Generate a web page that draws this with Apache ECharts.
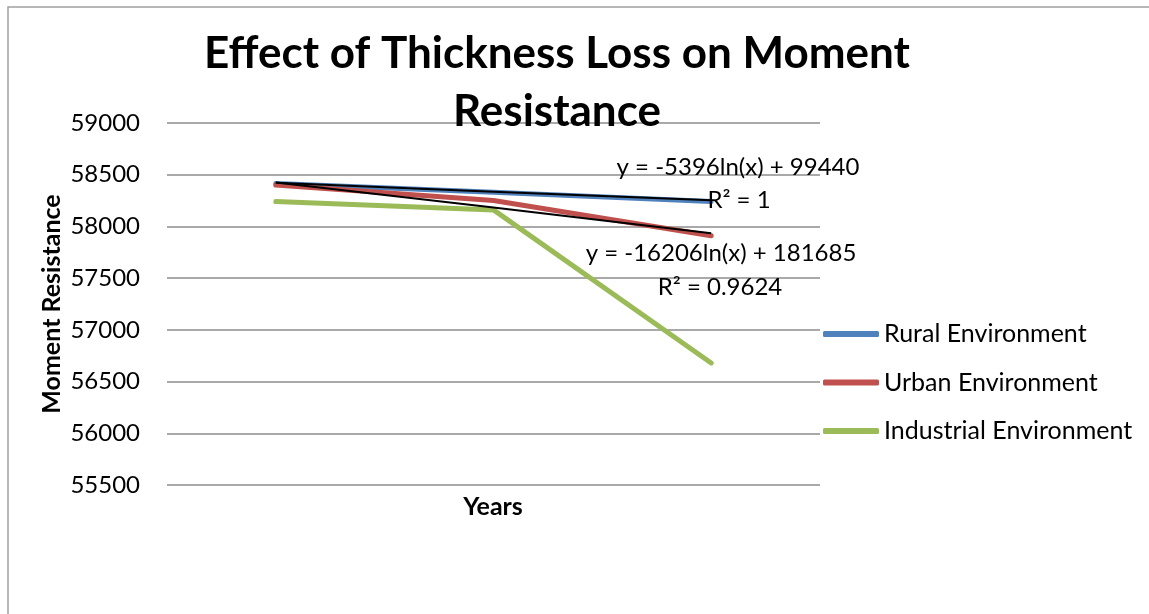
<!DOCTYPE html>
<html>
<head>
<meta charset="utf-8">
<script src="https://cdn.jsdelivr.net/npm/echarts@6/dist/echarts.min.js"></script>
<style>
  html, body { margin: 0; padding: 0; background: #fff; }
  #chart { width: 1149px; height: 614px; }
</style>
</head>
<body>
<div id="chart"></div>
<script>
// 数据
var categories = ['1', '2', '3'];
var seriesNames = ['Rural Environment', 'Urban Environment', 'Industrial Environment'];
var rural = [58415, 58330, 58240];
var urban = [58400, 58250, 57910];
var industrial = [58240, 58160, 56680];
// 趋势线 (log trendline)
var trendRural = [58422, 58336, 58252];
var trendUrban = [58425, 58183, 57935];
var trendText = [
    ['y = -5396ln(x) + 99440', 'R² = 1'],
    ['y = -16206ln(x) + 181685', 'R² = 0.9624']
];

var chart = echarts.init(document.getElementById('chart'));

var font = 'Lato, "Open Sans", sans-serif';

function eqText(x, y, s) {
    return {
        type: 'text', x: x, y: y, z: 100,
        style: { text: s, fill: '#000', font: '24px ' + font, textAlign: 'center', textVerticalAlign: 'middle' }
    };
}

var option = {
    backgroundColor: '#fff',
    animation: false,
    textStyle: { fontFamily: font },
    grid: { left: 167, top: 123, width: 653, height: 362, containLabel: false },
    legend: {
        data: seriesNames,
        orient: 'vertical',
        left: 823,
        top: 320,
        padding: 0,
        icon: 'roundRect',
        itemWidth: 56,
        itemHeight: 6,
        itemGap: 20.5,
        textStyle: { fontSize: 25, lineHeight: 28, color: '#000', fontFamily: font }
    },
    xAxis: {
        type: 'category',
        data: categories,
        boundaryGap: true,
        axisLine: { show: false },
        axisTick: { show: false },
        axisLabel: { show: false }
    },
    yAxis: {
        type: 'value',
        min: 55500,
        max: 59000,
        interval: 500,
        axisLine: { show: false },
        axisTick: { show: false },
        axisLabel: {
            fontSize: 24, color: '#000', margin: 27, fontFamily: font,
            formatter: function (v) { return String(v); }
        },
        splitLine: { lineStyle: { color: '#8c8c8c', width: 1.5 } }
    },
    series: [
        {
            name: seriesNames[0], type: 'line', data: rural, symbol: 'none',
            color: '#4F81BD', lineStyle: { width: 5, color: '#4F81BD', cap: 'round', join: 'round' }
        },
        {
            name: seriesNames[1], type: 'line', data: urban, symbol: 'none',
            color: '#C0504D', lineStyle: { width: 5, color: '#C0504D', cap: 'round', join: 'round' }
        },
        {
            name: seriesNames[2], type: 'line', data: industrial, symbol: 'none',
            color: '#9BBB59', lineStyle: { width: 5, color: '#9BBB59', cap: 'round', join: 'round' }
        },
        {
            name: 'trend1', type: 'line', data: trendRural, symbol: 'none', smooth: true,
            color: '#000', lineStyle: { width: 2, color: '#000' }
        },
        {
            name: 'trend2', type: 'line', data: trendUrban, symbol: 'none', smooth: true,
            color: '#000', lineStyle: { width: 2, color: '#000' }
        }
    ],
    graphic: [
        // 外框
        {
            type: 'rect', shape: { x: 8, y: 7, width: 1300, height: 800 },
            style: { fill: 'none', stroke: '#a0a0a0', lineWidth: 1.5 }, z: 0
        },
        // 标题
        {
            type: 'text', x: 557, y: 54, z: 100,
            style: {
                text: 'Effect of Thickness Loss on Moment', fill: '#000',
                font: 'bold 44px ' + font, textAlign: 'center', textVerticalAlign: 'middle'
            }
        },
        {
            type: 'text', x: 557, y: 112, z: 100,
            style: {
                text: 'Resistance', fill: '#000',
                font: 'bold 44px ' + font, textAlign: 'center', textVerticalAlign: 'middle'
            }
        },
        // y轴名称
        {
            type: 'text', x: 52, y: 304, rotation: Math.PI / 2, z: 100,
            style: {
                text: 'Moment Resistance', fill: '#000',
                font: 'bold 25px ' + font, textAlign: 'center', textVerticalAlign: 'middle'
            }
        },
        // x轴名称
        {
            type: 'text', x: 493, y: 507, z: 100,
            style: {
                text: 'Years', fill: '#000',
                font: 'bold 25px ' + font, textAlign: 'center', textVerticalAlign: 'middle'
            }
        },
        // 趋势线公式
        eqText(738, 167, trendText[0][0]),
        eqText(739, 200, trendText[0][1]),
        eqText(721, 253, trendText[1][0]),
        eqText(720, 287, trendText[1][1])
    ]
};

chart.setOption(option);
</script>
</body>
</html>
